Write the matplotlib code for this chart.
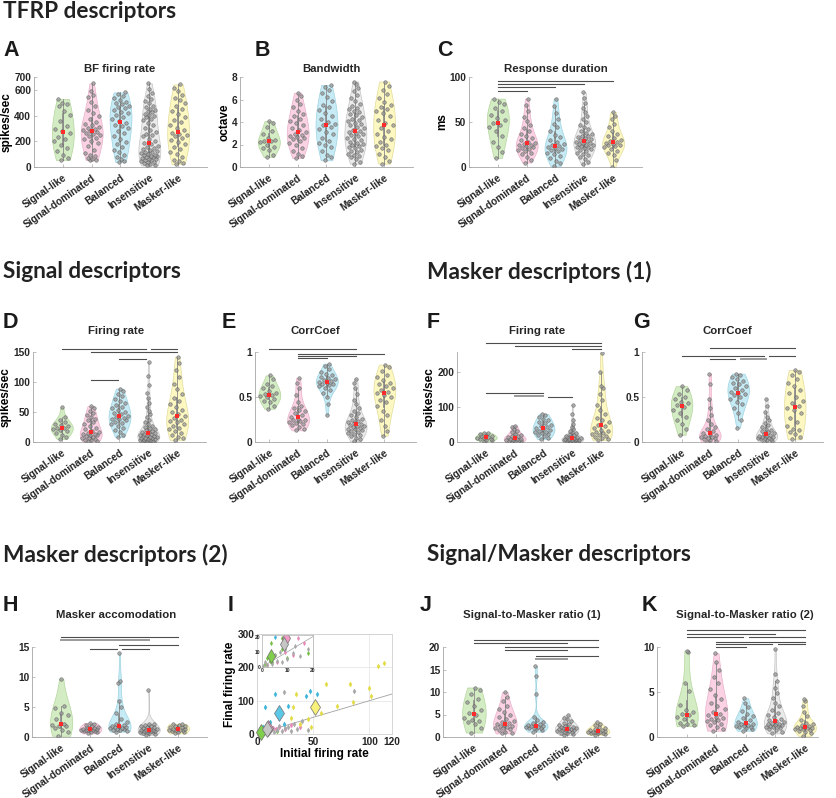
import numpy as np
import matplotlib
matplotlib.use('Agg')
import matplotlib.pyplot as plt

# ---- datos ----
groups = ['Signal-like', 'Signal-dominated', 'Balanced', 'Insensitive', 'Masker-like']

bf_rate = [
    [55, 68, 95, 128, 150, 172, 200, 218, 236, 262, 278, 298, 322, 358, 402, 438, 476, 488, 496, 530],
    [55, 58, 63, 72, 84, 97, 112, 135, 160, 185, 205, 214, 226, 238, 247, 256, 266, 274, 283, 289, 296,
     303, 312, 324, 338, 352, 374, 396, 418, 445, 472, 505, 542, 563, 592, 650],
    [38, 46, 62, 78, 97, 118, 136, 158, 176, 198, 216, 243, 262, 281, 302, 316, 328, 342, 356, 371, 388,
     402, 417, 428, 441, 456, 466, 477, 487, 496, 508, 522, 537, 551, 566, 580],
    [12, 18, 24, 30, 36, 42, 47, 52, 56, 61, 66, 70, 75, 79, 84, 88, 93, 97, 102, 108, 113, 119, 125, 131,
     138, 146, 155, 164, 176, 189, 204, 221, 238, 247, 256, 271, 289, 307, 326, 344, 362, 376, 388, 398,
     407, 416, 424, 432, 441, 452, 464, 478, 494, 512, 531, 553, 578, 604, 650],
    [22, 31, 44, 58, 76, 98, 117, 138, 158, 176, 197, 212, 228, 239, 248, 256, 268, 284, 302, 324, 347,
     368, 392, 413, 432, 454, 478, 501, 518, 537, 558, 588, 616, 642],
]

bandwidth = [
    [0.9, 1.1, 1.5, 1.7, 1.8, 2.0, 2.2, 2.3, 2.35, 2.4, 2.6, 2.9, 3.2, 3.6, 3.9, 4.1],
    [0.8, 0.95, 1.2, 1.45, 1.7, 1.95, 2.1, 2.3, 2.45, 2.6, 2.7, 2.8, 2.85, 2.95, 3.1, 3.3, 3.5, 3.7,
     3.95, 4.1, 4.3, 4.5, 4.75, 5.0, 5.3, 5.6, 5.95, 6.3, 6.6],
    [0.6, 0.85, 1.05, 1.4, 1.75, 2.0, 2.15, 2.35, 2.6, 2.9, 3.15, 3.4, 3.6, 3.7, 3.85, 4.0, 4.25, 4.55,
     4.8, 5.05, 5.3, 5.55, 5.9, 6.25, 6.55, 6.85, 7.1, 7.3],
    [0.3, 0.45, 0.7, 0.85, 1.0, 1.1, 1.2, 1.35, 1.45, 1.55, 1.65, 1.75, 1.85, 1.95, 2.05, 2.15, 2.25,
     2.4, 2.5, 2.6, 2.75, 2.85, 2.95, 3.05, 3.15, 3.2, 3.3, 3.45, 3.55, 3.7, 3.8, 3.95, 4.05, 4.2, 4.3,
     4.45, 4.6, 4.75, 4.85, 5.0, 5.15, 5.25, 5.4, 5.6, 5.85, 6.1, 6.4, 6.75, 7.05, 7.35, 7.6],
    [0.3, 0.5, 0.85, 1.2, 1.5, 1.7, 1.85, 2.0, 2.2, 2.45, 2.7, 2.95, 3.2, 3.45, 3.7, 3.95, 4.2, 4.5,
     4.8, 5.0, 5.15, 5.3, 5.5, 5.8, 6.15, 6.5, 6.85, 7.2, 7.6],
]

resp_dur = [
    [10, 17, 22, 28, 35, 40, 45, 47, 49, 52, 55, 58, 62, 66, 70, 72, 76],
    [5, 8, 11, 14, 16, 18, 19, 20, 21, 22, 23, 24, 25, 26, 27, 28, 30, 32, 34, 37, 40, 43, 47, 51, 56,
     62, 69, 76],
    [1, 4, 7, 10, 12, 14, 16, 18, 19, 20, 21, 22, 23, 24, 26, 28, 30, 33, 36, 40, 44, 48, 53, 60, 68, 76],
    [3, 6, 9, 11, 13, 15, 16, 18, 19, 20, 21, 22, 22.5, 23, 24, 25, 26, 26.5, 27, 28, 29, 30, 31, 32,
     33, 34, 35, 37, 38, 40, 42, 44, 47, 50, 53, 57, 61, 66, 71, 77, 83],
    [0, 8, 13, 16, 18, 20, 22, 23, 24, 25, 26, 27, 28, 29, 30, 32, 34, 37, 40, 44, 48, 53, 57, 61],
]

sig_rate = [
    [5, 8, 12, 15, 18, 20, 22, 23, 24, 26, 28, 30, 33, 37, 42, 58],
    [1, 2, 3, 4, 5, 6, 7, 8, 10, 11, 12, 13, 14, 15, 17, 19, 21, 24, 27, 30, 33, 36, 39, 42, 45, 48,
     52, 56, 60],
    [8, 12, 16, 20, 24, 27, 30, 32, 34, 36, 38, 39, 40, 42, 44, 46, 48, 50, 53, 56, 59, 62, 65, 68, 72,
     76, 80, 85, 89],
    [0, 0.5, 1, 1.5, 2, 2.5, 3, 3.5, 4, 5, 5.5, 6, 7, 7.5, 8, 9, 10, 10.5, 11, 12, 13, 14, 15, 16, 17,
     18, 20, 21, 23, 25, 27, 30, 33, 37, 41, 46, 52, 58, 65, 73, 82, 95, 110, 133],
    [3, 6, 9, 12, 15, 18, 21, 24, 27, 30, 33, 35, 37, 40, 43, 46, 50, 54, 58, 63, 68, 74, 80, 88, 97,
     108, 120, 132, 142],
]

sig_corr = [
    [0.37, 0.40, 0.44, 0.46, 0.48, 0.50, 0.51, 0.52, 0.53, 0.55, 0.57, 0.60, 0.62, 0.65, 0.70, 0.74],
    [0.13, 0.15, 0.17, 0.19, 0.20, 0.21, 0.22, 0.23, 0.24, 0.25, 0.26, 0.28, 0.30, 0.32, 0.34, 0.36,
     0.38, 0.40, 0.45, 0.52, 0.60, 0.66, 0.71],
    [0.30, 0.42, 0.50, 0.55, 0.58, 0.60, 0.62, 0.63, 0.64, 0.65, 0.66, 0.67, 0.68, 0.69, 0.70, 0.71,
     0.72, 0.74, 0.76, 0.78, 0.81, 0.84, 0.87],
    [0.01, 0.03, 0.05, 0.07, 0.08, 0.09, 0.10, 0.11, 0.12, 0.13, 0.14, 0.15, 0.16, 0.17, 0.175, 0.18,
     0.19, 0.20, 0.21, 0.22, 0.23, 0.24, 0.26, 0.28, 0.30, 0.32, 0.35, 0.38, 0.42, 0.47, 0.53, 0.60,
     0.66, 0.70],
    [0.07, 0.12, 0.18, 0.24, 0.30, 0.35, 0.40, 0.44, 0.47, 0.50, 0.52, 0.54, 0.56, 0.58, 0.60, 0.62,
     0.64, 0.66, 0.69, 0.72, 0.75, 0.79, 0.83, 0.86],
]

msk_rate = [
    [3, 5, 7, 9, 10, 11, 12, 14, 16, 18, 20, 22, 25, 27],
    [1, 2, 3, 4, 5, 6, 7, 8, 9, 10, 12, 14, 16, 18, 21, 24, 28, 32, 37, 42, 47],
    [8, 12, 16, 20, 23, 26, 28, 30, 32, 35, 38, 41, 44, 47, 50, 54, 58, 62, 67, 72, 76, 80],
    [0, 1, 2, 3, 3.5, 4, 5, 5.5, 6, 6.5, 7, 8, 9, 10, 11, 12, 13, 14, 16, 18, 20, 22, 25, 28, 32, 37,
     43, 52, 64, 80, 107],
    [5, 9, 12, 15, 18, 21, 24, 26, 28, 31, 35, 40, 45, 50, 56, 62, 70, 80, 92, 105, 120, 138, 155, 160,
     200, 255],
]

msk_corr = [
    [0.08, 0.15, 0.20, 0.25, 0.28, 0.32, 0.36, 0.39, 0.41, 0.43, 0.45, 0.48, 0.50, 0.53, 0.58, 0.62],
    [0.0, 0.01, 0.02, 0.03, 0.04, 0.05, 0.055, 0.06, 0.07, 0.08, 0.09, 0.10, 0.12, 0.14, 0.17, 0.20,
     0.25, 0.30, 0.38, 0.48, 0.64, 0.76],
    [0.16, 0.25, 0.32, 0.38, 0.42, 0.45, 0.48, 0.50, 0.52, 0.53, 0.54, 0.56, 0.58, 0.60, 0.62, 0.64,
     0.66, 0.68, 0.70, 0.72, 0.74, 0.76],
    [0.0, 0.01, 0.02, 0.03, 0.035, 0.04, 0.045, 0.05, 0.055, 0.06, 0.065, 0.07, 0.08, 0.09, 0.10, 0.11,
     0.12, 0.13, 0.15, 0.17, 0.19, 0.21, 0.24, 0.28, 0.33, 0.40, 0.48],
    [0.03, 0.06, 0.09, 0.11, 0.13, 0.15, 0.18, 0.22, 0.27, 0.32, 0.36, 0.38, 0.40, 0.43, 0.46, 0.50,
     0.54, 0.58, 0.62, 0.66, 0.70, 0.74, 0.78, 0.80],
]

msk_accom = [
    [0.2, 0.8, 1.2, 1.5, 1.8, 1.9, 2.0, 2.2, 3.0, 3.6, 4.0, 4.8, 5.2, 9.7],
    [0.6, 0.8, 0.9, 1.0, 1.05, 1.1, 1.15, 1.2, 1.25, 1.3, 1.35, 1.4, 1.5, 1.6, 1.7, 1.8, 2.0, 2.2, 2.35],
    [0.9, 1.0, 1.1, 1.2, 1.3, 1.4, 1.5, 1.55, 1.6, 1.7, 1.8, 1.9, 2.0, 2.2, 2.5, 3.0, 4.0, 5.0, 6.0,
     9.0, 9.3, 14.0],
    [0.3, 0.5, 0.6, 0.7, 0.8, 0.85, 0.9, 0.95, 1.0, 1.05, 1.1, 1.15, 1.2, 1.25, 1.3, 1.4, 1.5, 1.6,
     1.7, 1.8, 1.9, 2.0, 2.1, 2.2, 7.8],
    [0.6, 0.8, 0.9, 1.0, 1.1, 1.15, 1.2, 1.25, 1.3, 1.4, 1.5, 1.6, 1.7, 1.8, 1.9, 2.0, 2.1, 2.2],
]

smr1 = [
    [1.0, 2.0, 3.0, 3.3, 3.6, 3.8, 4.2, 4.8, 5.3, 6.0, 7.0, 7.8, 8.5, 9.5, 10.5, 11.0],
    [0.8, 1.0, 1.2, 1.5, 1.7, 1.9, 2.1, 2.3, 2.4, 2.5, 2.7, 2.9, 3.1, 3.3, 3.6, 4.0, 4.4, 5.0, 5.6,
     6.3, 7.0, 8.0, 9.0, 10.0],
    [1.2, 1.5, 1.7, 1.9, 2.0, 2.1, 2.2, 2.3, 2.4, 2.5, 2.6, 2.7, 2.9, 3.1, 3.4, 3.8, 4.5, 9.5, 13.5, 15.8],
    [0.5, 0.7, 0.9, 1.0, 1.1, 1.2, 1.3, 1.4, 1.5, 1.55, 1.6, 1.7, 1.8, 1.9, 2.0, 2.1, 2.2, 2.3, 2.5,
     2.7, 2.9, 3.2, 3.5, 3.9, 4.3, 4.8],
    [0.5, 0.7, 0.8, 0.9, 1.0, 1.05, 1.1, 1.15, 1.2, 1.3, 1.4, 1.5, 1.6, 1.8, 2.0, 2.3, 2.7, 3.0, 3.3],
]

smr2 = [
    [1.2, 1.3, 1.4, 1.6, 1.8, 2.0, 2.2, 2.4, 2.6, 2.8, 3.0, 3.6, 5.1, 6.0, 9.5, 9.6],
    [0.7, 0.9, 1.1, 1.3, 1.5, 1.7, 1.8, 1.9, 2.0, 2.1, 2.2, 2.4, 2.6, 2.8, 3.1, 3.4, 3.8, 4.2, 4.7,
     5.3, 6.0, 6.7, 7.4, 8.3, 9.3],
    [0.7, 0.9, 1.0, 1.1, 1.15, 1.2, 1.25, 1.3, 1.4, 1.5, 1.6, 1.7, 1.9, 2.1, 2.3, 2.6, 2.9, 3.3, 3.8, 4.3],
    [0.4, 0.6, 0.8, 0.9, 1.0, 1.1, 1.15, 1.2, 1.25, 1.3, 1.35, 1.4, 1.5, 1.6, 1.7, 1.8, 1.9, 2.0, 2.2,
     2.4, 2.7, 3.0, 3.4, 3.8, 4.3, 4.9, 5.5, 6.2, 7.0, 9.8],
    [0.1, 0.4, 0.6, 0.7, 0.8, 0.85, 0.9, 0.95, 1.0, 1.05, 1.1, 1.15, 1.2, 1.3, 1.4, 1.6, 1.9, 2.3, 2.8,
     3.4, 4.0, 4.2],
]

# panel I: firing rate inicial vs final por grupo
init_rate = [
    [1, 2, 3, 3.7, 4, 5, 7.7, 8, 10, 18],
    [2, 4, 6, 9, 12, 14, 16.5, 20, 25, 30, 38],
    [5, 7, 12, 16, 24, 28, 44, 47, 53],
    [0.5, 1, 2, 3, 4, 5, 6, 7, 8, 9, 10, 12, 13, 15, 18, 20, 22, 24, 25, 28, 30, 33, 36, 40, 45, 86],
    [30, 32, 35, 38, 45, 48, 57, 61, 71, 83, 85, 100, 101, 108, 113],
]
final_rate = [
    [2, 6, 4, 16, 3, 8, 19, 12, 6, 9],
    [1, 6, 3, 10, 8, 19, 16, 22, 14, 26, 20],
    [20, 82, 35, 120, 30, 84, 115, 130, 120],
    [0.5, 3, 1, 6, 2, 8, 4, 10, 3, 12, 5, 9, 14, 7, 12, 25, 10, 125, 18, 22, 8, 30, 15, 40, 12, 128],
    [47, 82, 121, 30, 45, 20, 64, 149, 84, 149, 96, 139, 115, 204, 212],
]
mean_init = [3.5, 9.5, 20, 8.5, 52]
mean_final = [7, 19, 64, 15, 82]

# ---- estilo ----
W, H = 837, 798
fill_cols = ['#d4ecc4', '#fbd2e4', '#c6ebf5', '#ebebeb', '#fdf8c2']
edge_cols = ['#b4d69e', '#e8b2ca', '#9fd3e2', '#c4c4c4', '#e2dc9c']
dot_cols = ['#74c043', '#e889b8', '#3fb6d9', '#a8a8a8', '#e3dc45']
big_cols = ['#7fcf4c', '#f29cc6', '#5cc8e8', '#c6c6c6', '#f7f07a']

plt.rcParams['font.family'] = ['Liberation Sans', 'DejaVu Sans']
plt.rcParams['font.weight'] = 'bold'
plt.rcParams['font.size'] = 7.3
plt.rcParams['text.color'] = '#262626'
plt.rcParams['xtick.color'] = '#262626'
plt.rcParams['ytick.color'] = '#262626'
plt.rcParams['axes.labelweight'] = 'bold'

fig = plt.figure(figsize=(W / 100, H / 100), dpi=100)


def ax_px(l, t, r, b):
    return fig.add_axes([l / W, 1 - b / H, (r - l) / W, (b - t) / H])


def kde(v, grid, bwf):
    mad = np.median(np.abs(v - np.median(v)))
    sig = mad / 0.6745 if mad > 0 else np.std(v)
    bw = bwf * sig * (4 / (3 * len(v))) ** 0.2
    return np.exp(-0.5 * ((grid[:, None] - v[None, :]) / bw) ** 2).sum(1)


def violins(ax, data, half=0.38, bwf=1.3):
    for i, vals in enumerate(data):
        v = np.sort(np.asarray(vals, float))
        pos = i + 1
        grid = np.linspace(v.min(), v.max(), 200)
        d = kde(v, grid, bwf)
        w = d / d.max() * half
        ax.fill_betweenx(grid, pos - w, pos + w, facecolor=fill_cols[i],
                         edgecolor=edge_cols[i], lw=0.5, zorder=1)
        dv = np.interp(v, grid, w)
        k = np.arange(len(v))
        jit = ((k * 0.618034 + 0.3) % 1) * 2 - 1
        ax.scatter(pos + jit * dv * 0.85, v, s=6.5, facecolor='#999999', edgecolor='#555555',
                   lw=0.45, alpha=0.75, zorder=3)
        q1, med, q3 = np.percentile(v, [25, 50, 75])
        iqr = q3 - q1
        lo = v[v >= q1 - 1.5 * iqr].min()
        hi = v[v <= q3 + 1.5 * iqr].max()
        ax.plot([pos, pos], [lo, hi], color='#8a8a8a', lw=0.6, zorder=2)
        ax.plot([pos, pos], [q1, q3], color='#8a8a8a', lw=1.2, zorder=2)
        ax.scatter([pos], [med], s=5, marker='s', color='#ff2a2a', lw=0, zorder=4)


def style(ax, ylim, yticks, yticklabels=None, ylabel=None, xlim=(0, 6)):
    ax.set_xlim(*xlim)
    ax.set_ylim(*ylim)
    ax.set_yticks(yticks)
    if yticklabels:
        ax.set_yticklabels(yticklabels)
    ax.set_xticks(range(1, 6))
    ax.set_xticklabels(groups, rotation=35, ha='right', rotation_mode='anchor')
    for s in ['top', 'right']:
        ax.spines[s].set_visible(False)
    for s in ['left', 'bottom']:
        ax.spines[s].set_color('#a6a6a6')
        ax.spines[s].set_linewidth(0.6)
    ax.tick_params(length=2, width=0.5, color='#a6a6a6', direction='in', pad=2)
    ax.tick_params(axis='x', pad=4)
    if ylabel:
        ax.set_ylabel(ylabel, fontsize=8.5, labelpad=1)


def sig(ax, lines):
    for ln in lines:
        x0, x1, y = ln[:3]
        light = len(ln) > 3
        ax.plot([x0, x1], [y, y], color='#9a9a9a' if light else '#4d4d4d',
                lw=1.4 if light else 0.8, clip_on=False, zorder=5)


def title(cx, base, txt):
    fig.text(cx / W, 1 - base / H, txt, ha='center', va='baseline', fontsize=8.2, fontweight='bold')


def letter(x, top, txt):
    fig.text(x / W, 1 - top / H, txt, ha='left', va='top', fontsize=15.5, fontweight='bold',
             color='#1a1a1a')


def section(x, top, txt):
    fig.text(x / W, 1 - top / H, txt, ha='left', va='top', fontsize=16.3, fontweight='bold',
             family='Lato', color='#222222')


# ---- fila 1: TFRP ----
section(3, 1, 'TFRP descriptors')

ax = ax_px(34, 77, 207, 167)
violins(ax, bf_rate)
style(ax, (0, 700), [0, 200, 400, 600, 700], ylabel='spikes/sec')
title(120, 72, 'BF firing rate')
letter(3, 40, 'A')

ax = ax_px(240, 77, 413, 167)
violins(ax, bandwidth)
style(ax, (0, 8), [0, 2, 4, 6, 8], ylabel='octave')
title(331, 72, 'Bandwidth')
letter(255, 40, 'B')

ax = ax_px(469, 77, 642, 167)
violins(ax, resp_dur)
style(ax, (0, 100), [0, 50, 100], ylabel='ms')
sig(ax, [(1, 2, 84.8), (1, 3, 88.6), (1, 4, 92.4), (1, 5, 95.5)])
title(556, 72, 'Response duration')
letter(437, 40, 'C')

# ---- fila 2 ----
section(3, 261, 'Signal descriptors')
section(427, 261, 'Masker descriptors (1)')

ax = ax_px(33, 352, 206, 442)
violins(ax, sig_rate)
style(ax, (0, 150), [0, 50, 100, 150], ylabel='spikes/sec')
sig(ax, [(1, 3.92, 155.5), (4.08, 5, 155.5), (2, 5, 150), (3, 3.92, 138), (2, 2.95, 103.6)])
title(116, 334, 'Firing rate')
letter(3, 312, 'D')

ax = ax_px(255, 352, 416, 442)
violins(ax, sig_corr)
style(ax, (0, 1), [0, 0.5, 1], ['0', '0.5', '1'], xlim=(0.5, 6.1))
sig(ax, [(1, 4, 1.03), (2, 5, 0.98), (2, 4, 0.955), (2, 3, 0.93)])
title(315, 334, 'CorrCoef')
letter(222, 312, 'E')

ax = ax_px(457, 352, 630, 442)
violins(ax, msk_rate)
style(ax, (0, 258), [0, 100, 200], ylabel='spikes/sec')
sig(ax, [(1, 5, 283), (2, 5, 275), (4, 5, 266), (1, 3, 141), (2, 3, 131, 'l'), (3.15, 4, 130)])
title(537, 334, 'Firing rate')
letter(427, 312, 'F')

ax = ax_px(642, 352, 823, 442)
violins(ax, msk_corr)
style(ax, (0, 1), [0, 0.5, 1], ['0', '0.5', '1'], xlim=(-0.4, 6.0))
sig(ax, [(2, 5, 1.046), (1, 3.9, 0.958), (4.1, 5, 0.958), (2, 2.9, 0.924), (3.1, 4, 0.924, 'l')])
title(727, 334, 'CorrCoef')
letter(633, 312, 'G')

# ---- fila 3 ----
section(3, 544, 'Masker descriptors (2)')
section(427, 544, 'Signal/Masker descriptors')

ax = ax_px(32, 647, 207, 737)
violins(ax, msk_accom, bwf=3.0)
style(ax, (0, 15), [0, 5, 10, 15])
sig(ax, [(1, 5, 16.6), (1, 4, 16.1, 'l'), (3, 5, 15.3), (2, 2.9, 14.6), (3.1, 4, 14.6)])
title(116, 618, 'Masker accomodation')
letter(3, 595, 'H')

# panel I
ax = ax_px(257, 634, 392, 734)
ax.set_xlim(0, 120)
ax.set_ylim(0, 300)
ax.set_xticks([0, 50, 100, 120])
ax.set_yticks([0, 100, 200, 300])
ax.grid(True, color='#e8e8e8', lw=0.6)
ax.set_axisbelow(True)
for s in ax.spines.values():
    s.set_color('#d0d0d0')
    s.set_linewidth(0.6)
ax.tick_params(length=0, pad=2)
ax.plot([0, 120], [0, 120], color='#a0a0a0', lw=0.6, zorder=1)
for g in range(5):
    ax.plot(init_rate[g], final_rate[g], 'd', ms=2.6, mfc=dot_cols[g], mec=dot_cols[g], mew=0.3,
            zorder=2, clip_on=False)
for g in [0, 1, 3, 2, 4]:
    ax.plot(mean_init[g], mean_final[g], 'd', ms=8.5, mfc=big_cols[g], mec='#707070', mew=0.5,
            zorder=3, clip_on=False)
ax.set_xlabel('Initial firing rate', fontsize=8.5, labelpad=1)
ax.set_ylabel('Final firing rate', fontsize=8.5, labelpad=1)
letter(228, 595, 'I')

axi = ax_px(262, 635, 313, 667)
axi.set_xlim(0, 20)
axi.set_ylim(0, 21)
axi.set_xticks([0, 10, 20])
axi.set_yticks([0, 10, 20])
axi.tick_params(labelsize=3.5, length=0, pad=1)
for s in axi.spines.values():
    s.set_color('#b0b0b0')
    s.set_linewidth(0.5)
axi.plot([0, 20], [0, 20], color='#a0a0a0', lw=0.5)
for g in range(5):
    axi.plot(init_rate[g], final_rate[g], 'd', ms=2.2, mfc=dot_cols[g], mec=dot_cols[g], mew=0.3)
for g in [0, 1, 3]:
    axi.plot(mean_init[g], mean_final[g], 'd', ms=7, mfc=big_cols[g], mec='#707070', mew=0.5)

ax = ax_px(443, 647, 610, 737)
violins(ax, smr1, bwf=2.2)
style(ax, (0, 20), [0, 5, 10, 15, 20], xlim=(0, 5.4))
sig(ax, [(1, 5, 21.6), (1, 4, 21.0), (2, 5, 19.9), (2, 4, 19.3), (3, 5, 18.1), (3, 4, 17.4, 'l')])
title(532, 618, 'Signal-to-Masker ratio (1)')
letter(420, 595, 'J')

ax = ax_px(657, 647, 818, 737)
violins(ax, smr2, bwf=2.2)
style(ax, (0, 10), [0, 5, 10], xlim=(0, 5.45))
sig(ax, [(1, 5, 11.85), (1, 4, 11.48), (1, 2.9, 11.1), (3.1, 5, 11.1), (2, 5, 10.6),
         (2, 3.9, 10.3), (4.1, 5, 10.3), (2, 3, 10.0)])
title(745, 618, 'Signal-to-Masker ratio (2)')
letter(642, 595, 'K')

fig.savefig('out.png', dpi=100)
